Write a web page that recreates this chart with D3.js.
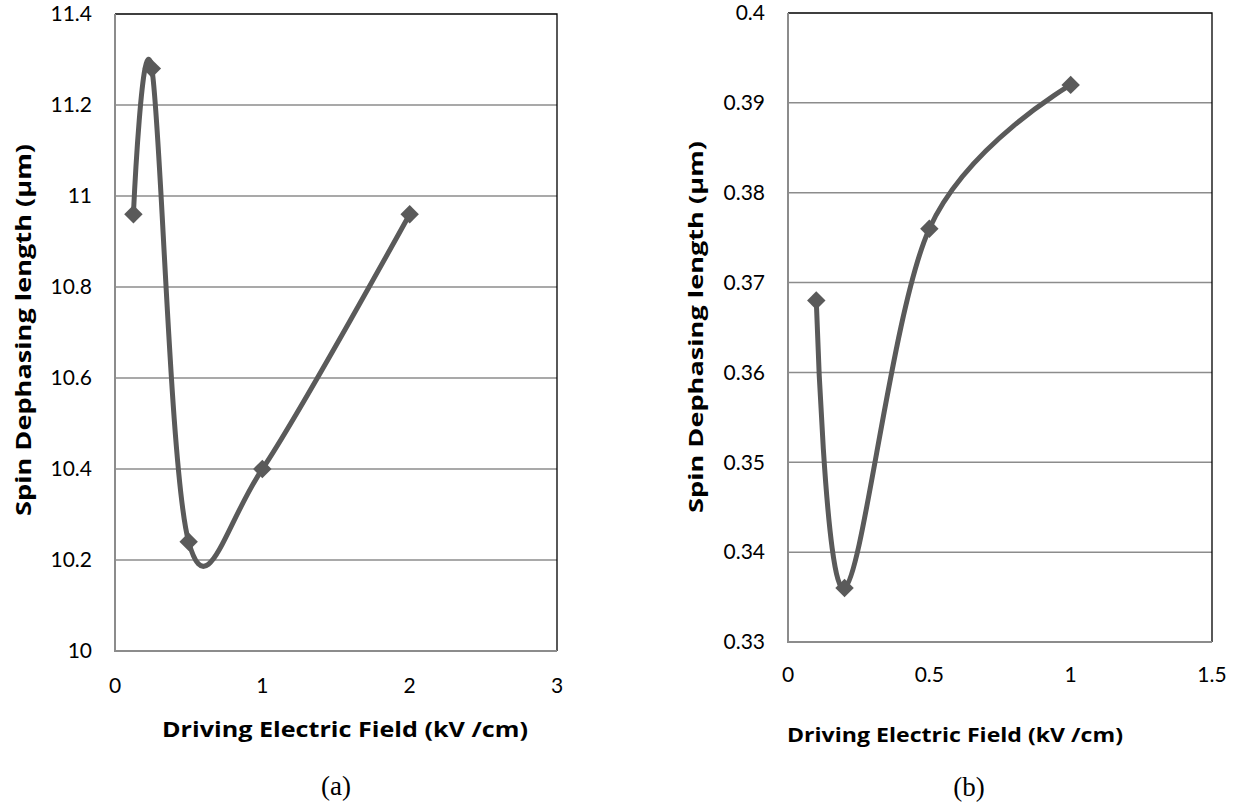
<!DOCTYPE html>
<html>
<head>
<meta charset="utf-8">
<script src="https://cdn.jsdelivr.net/npm/d3@7"></script>
<style>
  body { margin: 0; background: #fff; }
  svg text { font-family: Lato, "Open Sans", sans-serif; fill: #000; }
</style>
</head>
<body>
<div id="chart"></div>
<script>
// panel (a)
var fieldA = [0.125, 0.25, 0.5, 1, 2];
var lengthA = [10.96, 11.28, 10.24, 10.4, 10.96];
var xTicksA = [0, 1, 2, 3];
var yTicksA = [10, 10.2, 10.4, 10.6, 10.8, 11, 11.2, 11.4];

// panel (b)
var fieldB = [0.1, 0.2, 0.5, 1];
var lengthB = [0.368, 0.336, 0.376, 0.392];
var xTicksB = [0, 0.5, 1, 1.5];
var yTicksB = [0.33, 0.34, 0.35, 0.36, 0.37, 0.38, 0.39, 0.4];

var xTitle = "Driving Electric Field (kV /cm)";
var yTitle = "Spin Dephasing length (µm)";

var width = 1239, height = 808;
var svg = d3.select("#chart").append("svg")
  .attr("width", width)
  .attr("height", height);

var lineColor = "#5a5a5a", gridColor = "#8c8c8c";

function drawPanel(p) {
  var x = d3.scaleLinear().domain([p.xTicks[0], p.xTicks[p.xTicks.length - 1]]).range([p.left, p.right]);
  var y = d3.scaleLinear().domain([p.yTicks[0], p.yTicks[p.yTicks.length - 1]]).range([p.bottom, p.top]);
  var g = svg.append("g");

  // gridlines
  g.selectAll(".grid")
    .data(p.yTicks.slice(1, -1))
    .enter().append("line")
    .attr("x1", p.left).attr("x2", p.right)
    .attr("y1", d => y(d)).attr("y2", d => y(d))
    .attr("stroke", gridColor).attr("stroke-width", 1.5);

  // plot border (top/right black)
  g.append("path")
    .attr("d", "M" + p.left + "," + p.top + "H" + p.right + "V" + p.bottom)
    .attr("fill", "none").attr("stroke", "#000").attr("stroke-width", 1.3);

  // axes lines
  g.append("path")
    .attr("d", "M" + p.left + "," + p.top + "V" + p.bottom + "H" + p.right)
    .attr("fill", "none").attr("stroke", gridColor).attr("stroke-width", 2);

  // tick labels
  var fmt = d3.format("");
  g.selectAll(".ylab")
    .data(p.yTicks)
    .enter().append("text")
    .attr("x", p.left - 23)
    .attr("y", d => y(d))
    .attr("dy", "0.35em")
    .attr("text-anchor", "end")
    .style("font-size", p.tickSize + "px")
    .text(d => fmt(d));

  g.selectAll(".xlab")
    .data(p.xTicks)
    .enter().append("text")
    .attr("x", d => x(d))
    .attr("y", p.xLabY)
    .attr("dy", "0.35em")
    .attr("text-anchor", "middle")
    .style("font-size", p.tickSize + "px")
    .text(d => fmt(d));

  // titles
  g.append("text")
    .attr("x", p.xTitleX).attr("y", p.xTitleY)
    .attr("dy", "0.35em")
    .attr("text-anchor", "middle")
    .attr("textLength", p.xTitleLen)
    .attr("lengthAdjust", "spacingAndGlyphs")
    .style("font-family", "'Open Sans', sans-serif")
    .style("font-size", p.titleSize + "px")
    .style("font-weight", "bold")
    .text(xTitle);

  g.append("text")
    .attr("transform", "translate(" + p.yTitleX + "," + p.yTitleY + ") rotate(-90)")
    .attr("dy", "0.35em")
    .attr("text-anchor", "middle")
    .attr("textLength", p.yTitleLen)
    .attr("lengthAdjust", "spacingAndGlyphs")
    .style("font-family", "'Open Sans', sans-serif")
    .style("font-size", p.titleSize + "px")
    .style("font-weight", "bold")
    .text(yTitle);

  g.append("text")
    .attr("x", p.capX).attr("y", p.capY)
    .attr("dy", "0.35em")
    .attr("text-anchor", "middle")
    .style("font-family", "'Liberation Serif', serif")
    .style("font-size", "27px")
    .text(p.caption);

  // smoothed line
  var pts = p.xs.map((d, i) => [d, p.ys[i]]);
  var line = d3.line()
    .x(d => x(d[0]))
    .y(d => y(d[1]))
    .curve(d3.curveCardinal.tension(0));
  g.append("path")
    .datum(pts)
    .attr("d", line)
    .attr("fill", "none")
    .attr("stroke", lineColor)
    .attr("stroke-width", 5)
    .attr("stroke-linejoin", "round");

  // diamond markers
  g.selectAll(".mark")
    .data(pts)
    .enter().append("path")
    .attr("d", d3.symbol().type(d3.symbolSquare).size(170))
    .attr("transform", d => "translate(" + x(d[0]) + "," + y(d[1]) + ") rotate(45)")
    .attr("fill", lineColor);
}

drawPanel({
  xs: fieldA, ys: lengthA, xTicks: xTicksA, yTicks: yTicksA,
  left: 115, right: 557, top: 14, bottom: 651,
  tickSize: 21, xLabY: 686, titleSize: 21,
  xTitleX: 345, xTitleY: 730, xTitleLen: 366,
  yTitleX: 24, yTitleY: 330, yTitleLen: 372,
  capX: 336, capY: 786, caption: "(a)"
});

drawPanel({
  xs: fieldB, ys: lengthB, xTicks: xTicksB, yTicks: yTicksB,
  left: 788, right: 1212, top: 13, bottom: 642,
  tickSize: 21, xLabY: 675, titleSize: 19,
  xTitleX: 955, xTitleY: 735, xTitleLen: 336,
  yTitleX: 696, yTitleY: 327, yTitleLen: 372,
  capX: 969, capY: 787, caption: "(b)"
});
</script>
</body>
</html>
